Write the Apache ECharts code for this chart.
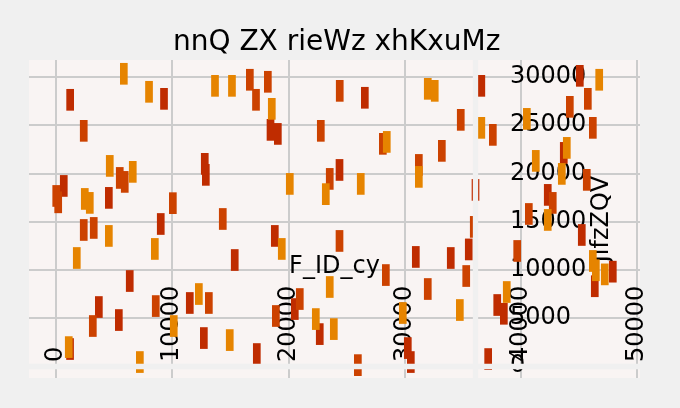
<!DOCTYPE html>
<html>
<head>
<meta charset="utf-8">
<script src="https://cdn.jsdelivr.net/npm/echarts@6/dist/echarts.min.js"></script>
<style>
  html, body { margin: 0; padding: 0; background: #f0f0f0; }
  #chart { width: 680px; height: 408px; }
</style>
</head>
<body>
<div id="chart"></div>
<script>
// ------------------------------------------------------------
// data: [F_ID_cy, JlfzZQV]
// ------------------------------------------------------------
var TITLE = 'nnQ ZX rieWz xhKxuMz';
var X_NAME = 'F_ID_cy';
var Y_NAME = 'JlfzZQV';

var darkPoints = [
  [1220, 27640], [9300, 27740], [18470, 24520], [19100, 24100], [12810, 20990],
  [12900, 19850], [24410, 20360], [670, 18700], [4550, 17460], [26590, 27850],
  [36620, 29090], [36120, 18290], [45100, 30130], [43720, 22130], [42340, 17770],
  [9020, 14750], [15390, 11010], [18840, 13510], [6350, 8830], [3690, 6130],
  [5410, 4780], [1210, 1770], [11520, 6550], [12730, 2910], [17290, 1250],
  [20560, 5920], [22710, 3320], [30980, 11330], [33990, 11220], [35540, 12110],
  [30290, 1870], [30550, 420], [37210, 730], [37990, 6340], [38560, 5430],
  [45270, 13610], [46390, 8290], [47940, 9800]
];

var redPoints = [
  [2390, 24420], [16690, 29720], [17220, 27640], [18240, 29510], [22800, 24420],
  [24430, 28570], [5490, 19530], [5920, 19120], [23570, 19430], [20, 17660],
  [190, 17000], [10060, 16910], [34850, 25560], [37610, 24000], [28140, 23070],
  [33220, 22340], [31240, 20880], [45790, 27740], [44240, 26910], [46220, 24730],
  [45700, 19330], [42770, 16940], [40710, 15790], [2390, 14130], [3250, 14340],
  [14360, 15270], [24410, 12990], [3170, 4160], [8590, 6230], [13160, 6550],
  [18930, 5200], [20990, 6960], [28400, 9450], [32010, 8000], [35320, 9350],
  [35970, 14450], [25990, 100], [39710, 11950]
];

var orangePoints = [
  [5840, 30340], [8010, 28470], [13690, 29090], [15150, 29090], [18580, 26700],
  [4630, 20780], [6610, 20160], [20130, 18910], [23230, 17850], [2480, 17350],
  [2910, 16940], [32010, 28780], [32610, 28570], [36620, 24730], [28480, 23270],
  [31240, 19640], [26240, 18910], [46770, 29720], [40540, 25660], [43980, 22650],
  [41310, 21300], [43550, 19950], [42340, 15170], [4550, 13510], [1790, 11220],
  [8510, 12160], [19440, 12160], [1100, 1970], [7220, 420], [10140, 4160],
  [12300, 7480], [14960, 2700], [22370, 4880], [23920, 3840], [23570, 8210],
  [29860, 5510], [34770, 5820], [38810, 7690], [46220, 10910], [46480, 9950],
  [47250, 9520]
];

var SERIES_COLORS = ['#bf2c00', '#cc4200', '#e68400'];
var FONT = 'DejaVu Sans';

var X_MIN = -2324, X_MAX = 50282;
var Y_MIN = -1236, Y_MAX = 31772;

// ------------------------------------------------------------
// chart
// ------------------------------------------------------------
var chart = echarts.init(document.getElementById('chart'));

function plainNumber(v) {
  return String(Math.round(v));
}

function scatter(name, data, color) {
  return {
    name: name,
    type: 'scatter',
    xAxisIndex: 0,
    yAxisIndex: 0,
    z: 2,
    symbol: 'rect',
    symbolSize: [7.7, 21.7],
    itemStyle: { color: color, opacity: 1 },
    data: data
  };
}

// axis lines are drawn as thick bands in the page colour, above the marks
var bandStyle = { color: '#f0f0f0', width: 5.3 };

chart.setOption({
  animation: false,
  backgroundColor: '#f0f0f0',
  textStyle: { fontFamily: FONT },
  title: {
    text: TITLE,
    left: 168,
    top: 24,
    textStyle: { fontFamily: FONT, fontSize: 28, fontWeight: 'normal', color: '#000' }
  },
  grid: {
    left: 29, right: 40, top: 60, bottom: 30,
    outerBoundsMode: 'none',
    show: true, backgroundColor: '#f9f4f3', borderWidth: 0
  },
  xAxis: [{
    // labels / grid lines / name, measured from the plot's bottom edge
    type: 'value',
    position: 'bottom',
    min: X_MIN, max: X_MAX,
    z: 0,
    axisLine: { show: false, onZero: false },
    axisTick: { show: false },
    axisLabel: {
      rotate: 90, margin: -16, align: 'left', verticalAlign: 'middle',
      fontSize: 24, color: '#000', fontFamily: FONT,
      showMinLabel: false, showMaxLabel: false,
      formatter: plainNumber
    },
    splitLine: {
      show: true, showMinLine: false, showMaxLine: false,
      lineStyle: { color: '#cccccc', width: 2 }
    },
    name: X_NAME,
    nameLocation: 'middle',
    nameGap: -123,
    nameMoveOverlap: false,
    nameTextStyle: { fontSize: 24, color: '#000', fontFamily: FONT }
  }, {
    // band at y = 0
    type: 'value',
    position: 'bottom',
    min: X_MIN, max: X_MAX,
    z: 3,
    axisLine: { show: true, onZero: true, onZeroAxisIndex: 0, lineStyle: bandStyle },
    axisTick: { show: false },
    axisLabel: { show: false },
    splitLine: { show: false }
  }],
  yAxis: [{
    type: 'value',
    position: 'right',
    offset: -165,
    min: Y_MIN, max: Y_MAX,
    z: 0,
    axisLine: { show: false, onZero: false },
    axisTick: { show: false },
    axisLabel: {
      margin: 35, fontSize: 24, color: '#000', fontFamily: FONT,
      showMinLabel: false, showMaxLabel: false,
      formatter: plainNumber
    },
    splitLine: {
      show: true, showMinLine: false, showMaxLine: false,
      lineStyle: { color: '#cccccc', width: 2 }
    },
    name: Y_NAME,
    nameLocation: 'middle',
    nameGap: 115,
    nameMoveOverlap: false,
    nameTextStyle: { fontSize: 24, color: '#000', fontFamily: FONT }
  }, {
    type: 'value',
    position: 'right',
    offset: -165,
    min: Y_MIN, max: Y_MAX,
    z: 3,
    axisLine: { show: true, onZero: false, lineStyle: bandStyle },
    axisTick: { show: false },
    axisLabel: { show: false },
    splitLine: { show: false }
  }],
  series: [
    scatter('dark', darkPoints, SERIES_COLORS[0]),
    scatter('red', redPoints, SERIES_COLORS[1]),
    scatter('orange', orangePoints, SERIES_COLORS[2])
  ]
});
</script>
</body>
</html>
